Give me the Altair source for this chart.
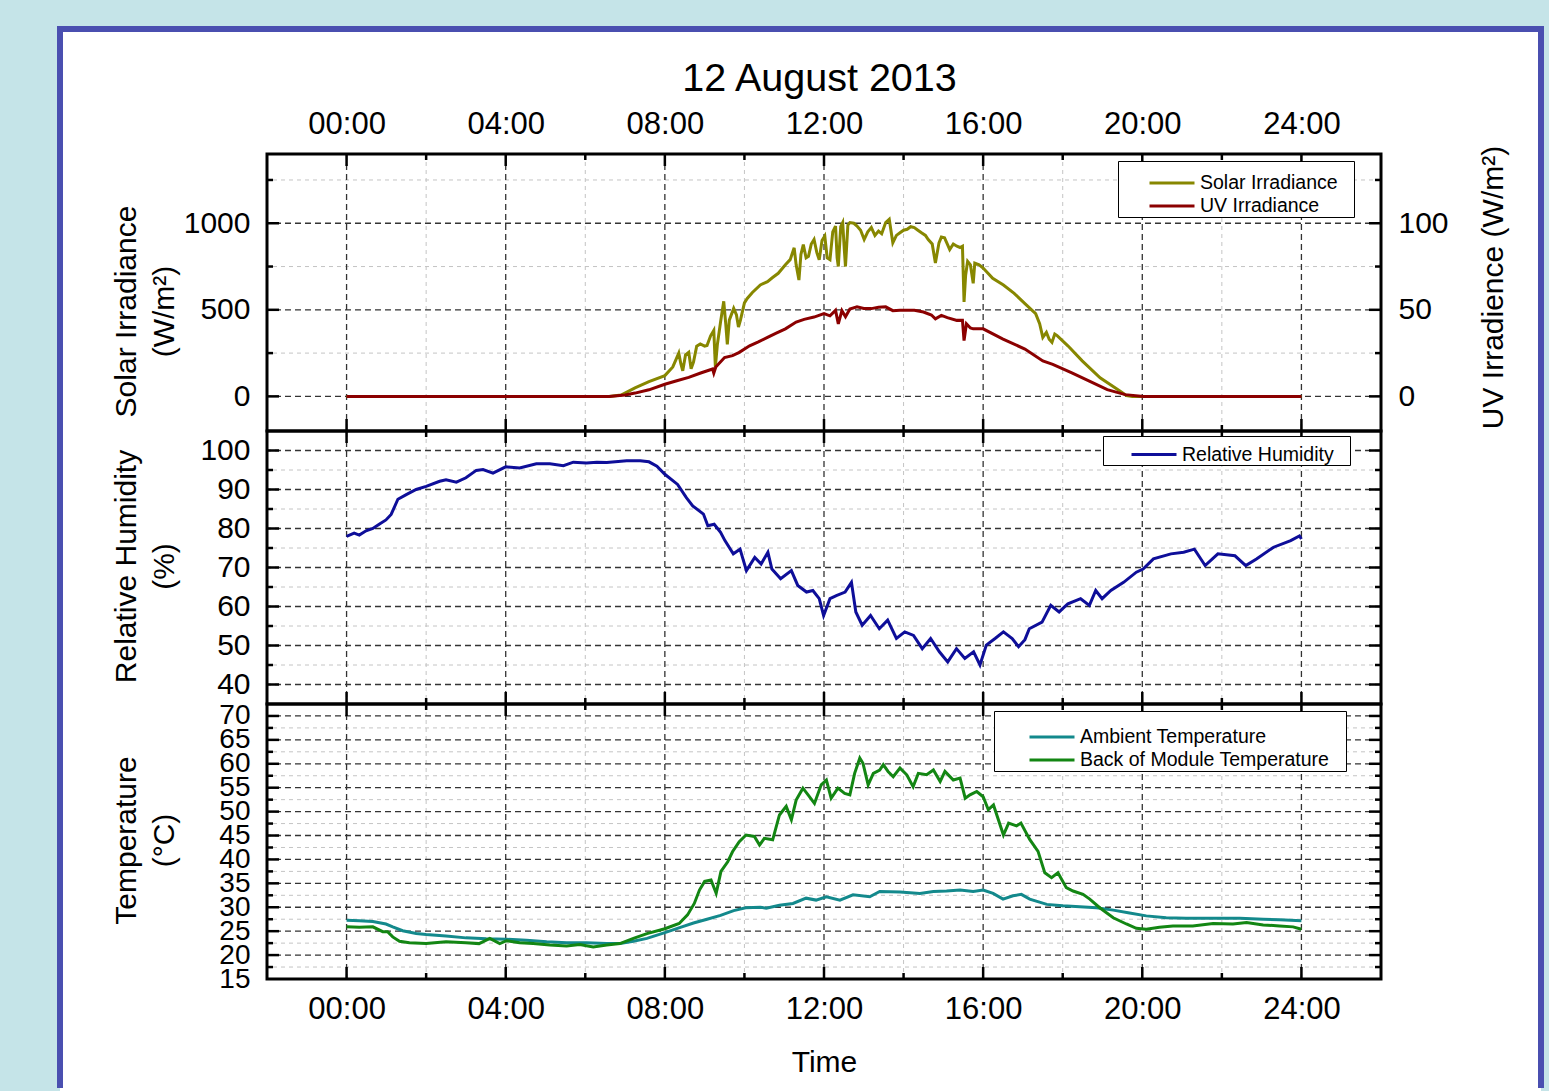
import altair as alt
import pandas as pd

FONT = "Liberation Sans, Arial, Helvetica, sans-serif"

# ---------------- data ----------------
hour_major = [0, 4, 8, 12, 16, 20, 24]
hour_minor = [2, 6, 10, 14, 18, 22]

solar_t = [0, 6.6, 6.9, 7.25, 7.6, 8.0, 8.2, 8.35, 8.4, 8.45, 8.52, 8.6, 8.66, 8.72, 8.8, 8.89, 9.0, 9.06, 9.15, 9.23,
           9.27, 9.32, 9.4, 9.48, 9.53, 9.57, 9.62, 9.73, 9.8, 9.85, 9.9, 10.0, 10.07, 10.2, 10.4, 10.58, 10.7, 10.85,
           11.03, 11.15, 11.25, 11.3, 11.37, 11.42, 11.48, 11.55, 11.61, 11.68, 11.75, 11.82, 11.88, 11.95, 12.02,
           12.08, 12.15, 12.22, 12.29, 12.33, 12.36, 12.42, 12.47, 12.51, 12.54, 12.6, 12.65, 12.75, 12.83, 12.92,
           13.01, 13.1, 13.19, 13.28, 13.37, 13.45, 13.55, 13.64, 13.73, 13.82, 13.91, 14.0, 14.09, 14.18, 14.27,
           14.36, 14.45, 14.55, 14.62, 14.72, 14.8, 14.89, 14.95, 15.03, 15.1, 15.16, 15.25, 15.34, 15.42, 15.48,
           15.52, 15.56, 15.61, 15.68, 15.75, 15.79, 15.9, 16.0, 16.24, 16.51, 16.78, 17.05, 17.32, 17.42, 17.5,
           17.59, 17.66, 17.73, 17.8, 17.86, 18.13, 18.49, 18.94, 19.39, 19.6, 19.75, 24]
solar_v = [0, 0, 8, 49, 85, 120, 170, 250, 190, 148, 240, 255, 160, 198, 290, 303, 290, 294, 350, 381,
           170, 300, 430, 549, 420, 300, 440, 508, 470, 400, 440, 540, 566, 600, 644, 663, 685, 711,
           760, 790, 858, 760, 672, 820, 877, 800, 809, 880, 906, 830, 789, 900, 926,
           800, 790, 950, 984, 800, 750, 980, 1004, 850, 750, 990, 1004, 1000, 984, 960,
           906, 950, 975, 930, 955, 940, 1004, 1023, 887, 930, 945, 960, 965, 980, 975,
           960, 945, 930, 906, 880, 770, 887, 920, 916, 880, 848, 880, 867, 860, 867,
           546, 700, 780, 760, 653, 770, 760, 741, 682, 643, 595, 536, 478, 420, 341,
           370, 330, 312, 360, 351, 292, 205, 107, 39, 5, 0, 0]

uv_t = [0, 6.6, 7.0, 7.25, 7.6, 8.0, 8.3, 8.6, 8.9, 9.2, 9.23, 9.28, 9.5, 9.7, 9.86, 10.13, 10.35, 10.58, 10.8,
        11.03, 11.3, 11.5, 11.75, 12.0, 12.15, 12.29, 12.36, 12.45, 12.54, 12.65, 12.83, 13.0, 13.19, 13.37,
        13.55, 13.73, 13.91, 14.27, 14.5, 14.7, 14.8, 14.95, 15.1, 15.34, 15.48, 15.52, 15.58, 15.68, 15.75,
        16.0, 16.5, 17.05, 17.5, 17.75, 18.23, 18.67, 19.12, 19.57, 20.03, 24]
uv_v = [0, 0, 0.8, 1.9, 3.8, 7.0, 9.0, 11.0, 13.5, 15.8, 13.4, 17.0, 22.4, 23.5, 25.3, 29.2, 31.5, 34.1, 36.5,
        39.0, 42.9, 44.5, 45.8, 47.8, 46.5, 49.7, 41.9, 49.5, 46.0, 50.5, 51.7, 50.8, 50.7, 51.5,
        51.7, 49.5, 49.7, 49.7, 48.7, 47.0, 44.8, 46.8, 45.5, 43.9, 44.0, 32.2, 41.9, 39.5, 39.0,
        39.0, 33.1, 27.3, 20.5, 18.5, 13.6, 8.8, 3.9, 1.0, 0, 0]

rh_t = [0, 0.19, 0.32, 0.49, 0.66, 0.82, 0.99, 1.12, 1.29, 1.5, 1.75, 2.0, 2.34, 2.5, 2.76, 3.0, 3.26, 3.43, 3.68,
        4.0, 4.35, 4.77, 5.11, 5.45, 5.7, 6.03, 6.29, 6.54, 7.04, 7.38, 7.6, 7.8, 8.0, 8.32, 8.54, 8.7, 8.97, 9.08,
        9.24, 9.4, 9.51, 9.72, 9.89, 10.05, 10.26, 10.42, 10.59, 10.69, 10.91, 11.18, 11.34, 11.56, 11.72, 11.88,
        11.99, 12.15, 12.31, 12.53, 12.69, 12.8, 12.96, 13.17, 13.39, 13.6, 13.82, 14.03, 14.25, 14.47, 14.68,
        14.9, 15.11, 15.33, 15.54, 15.76, 15.92, 16.08, 16.3, 16.51, 16.73, 16.89, 17.05, 17.16, 17.48, 17.7,
        17.91, 18.13, 18.45, 18.67, 18.83, 18.99, 19.21, 19.53, 19.85, 20.02, 20.28, 20.72, 21.04, 21.31, 21.58,
        21.9, 22.33, 22.6, 22.87, 23.3, 23.73, 23.95, 24.0]
rh_v = [78.0, 78.8, 78.3, 79.4, 80.0, 81.1, 82.2, 83.6, 87.5, 88.7, 90.0, 90.8, 92.1, 92.5, 91.9, 93.0, 94.9, 95.1,
        94.2, 95.8, 95.5, 96.6, 96.6, 96.1, 97.0, 96.8, 97.0, 96.9, 97.4, 97.4, 97.1, 96.0, 93.9, 91.3, 87.9, 85.8,
        83.7, 80.7, 81.1, 79.0, 76.9, 73.5, 74.7, 69.2, 72.6, 70.9, 73.9, 69.6, 67.1, 69.2, 65.4, 63.7, 64.1, 62.0,
        57.7, 62.0, 62.8, 63.7, 66.2, 58.6, 55.2, 57.7, 54.3, 56.5, 51.8, 53.5, 52.6, 49.2, 51.8, 48.4, 45.8, 49.2,
        46.7, 48.4, 45.0, 50.1, 51.8, 53.5, 51.8, 49.7, 51.5, 54.3, 56.0, 60.3, 58.6, 60.7, 62.0, 60.3, 64.1, 62.0,
        64.1, 66.2, 68.8, 69.6, 72.2, 73.5, 73.9, 74.7, 70.5, 73.5, 73.0, 70.5, 72.2, 75.2, 76.9, 78.1, 77.3]

amb_t = [0, 0.32, 0.66, 0.99, 1.16, 1.41, 1.75, 2.0, 2.5, 3.0, 3.51, 4.02, 4.52, 5.03, 5.53, 6.03, 6.54, 6.87,
         7.21, 7.55, 8.0, 8.39, 8.72, 9.06, 9.4, 9.73, 10.03, 10.4, 10.55, 10.88, 11.22, 11.55, 11.8, 12.06, 12.4,
         12.73, 13.15, 13.4, 13.91, 14.41, 14.75, 15.08, 15.42, 15.75, 16.0, 16.25, 16.5, 16.75, 16.96, 17.17,
         17.6, 18.0, 18.43, 18.85, 19.27, 19.68, 20.1, 20.6, 21.1, 21.78, 22.45, 23.04, 23.45, 24.0]
amb_v = [27.3, 27.2, 27.0, 26.5, 25.9, 25.1, 24.5, 24.3, 24.0, 23.6, 23.4, 23.3, 23.1, 22.8, 22.6, 22.6, 22.4, 22.4,
         22.9, 23.5, 24.7, 25.8, 26.7, 27.5, 28.3, 29.3, 29.9, 30.0, 29.8, 30.4, 30.8, 31.9, 31.5, 32.2, 31.5,
         32.6, 32.2, 33.3, 33.2, 32.9, 33.3, 33.4, 33.6, 33.3, 33.6, 32.9, 31.7, 32.4, 32.7, 31.7,
         30.6, 30.3, 30.1, 29.9, 29.4, 28.8, 28.2, 27.8, 27.7, 27.7, 27.7, 27.5, 27.4, 27.2]

bom_t = [0, 0.32, 0.66, 0.91, 1.03, 1.16, 1.33, 1.58, 2.0, 2.5, 3.0, 3.33, 3.6, 3.85, 4.02, 4.35, 4.69, 5.11, 5.53,
         5.86, 6.2, 6.54, 6.87, 7.21, 7.55, 8.0, 8.36, 8.57, 8.74, 8.87, 9.0, 9.16, 9.29, 9.41, 9.58, 9.7, 9.87,
         10.04, 10.25, 10.38, 10.5, 10.71, 10.88, 11.05, 11.18, 11.3, 11.47, 11.6, 11.76, 11.93, 12.06, 12.18,
         12.35, 12.52, 12.65, 12.77, 12.9, 12.98, 13.11, 13.24, 13.4, 13.49, 13.61, 13.74, 13.91, 14.08, 14.24,
         14.37, 14.58, 14.75, 14.92, 15.04, 15.25, 15.42, 15.55, 15.67, 15.84, 16.0, 16.13, 16.26, 16.51, 16.64,
         16.84, 16.95, 17.17, 17.38, 17.55, 17.72, 17.88, 18.09, 18.26, 18.51, 18.68, 18.93, 19.27, 19.6, 19.85,
         20.1, 20.43, 20.77, 21.27, 21.78, 22.28, 22.62, 23.04, 23.45, 23.79, 24.0]
bom_v = [25.9, 25.8, 25.9, 24.9, 24.9, 23.8, 22.9, 22.6, 22.4, 22.8, 22.6, 22.4, 23.5, 22.4, 23.0, 22.6, 22.4, 22.1,
         21.9, 22.2, 21.7, 22.1, 22.4, 23.5, 24.5, 25.5, 26.6, 28.4, 30.8, 33.6, 35.4, 35.7, 32.9, 37.5, 39.5, 41.6,
         43.7, 45.1, 44.8, 43.0, 44.4, 44.1, 49.3, 51.1, 48.3, 52.4, 54.9, 53.5, 51.7, 55.6, 56.6, 52.8,
         54.9, 53.8, 53.5, 58.0, 61.2, 60.1, 55.6, 58.0, 58.7, 59.8, 58.4, 57.3, 59.1, 57.7, 55.2,
         58.0, 57.7, 58.7, 56.3, 58.4, 56.6, 57.0, 52.8, 53.5, 54.2, 53.1, 50.4, 51.4, 45.1, 47.6,
         47.0, 47.6, 44.2, 41.7, 37.2, 36.2, 37.2, 34.1, 33.4, 32.7, 31.7, 29.9, 27.8, 26.5, 25.6,
         25.4, 25.8, 26.1, 26.1, 26.6, 26.5, 26.8, 26.3, 26.1, 25.9, 25.4]

solar_major = [0, 500, 1000]
solar_minor = [250, 750, 1250]
uv_labels = [0, 50, 100]
rh_major = [40, 50, 60, 70, 80, 90, 100]
rh_minor = [45, 55, 65, 75, 85, 95]
temp_labels = [15, 20, 25, 30, 35, 40, 45, 50, 55, 60, 65, 70]
temp_major = [20, 25, 30, 35, 40, 45, 50, 55, 60, 65, 70]
temp_minor = [17.5, 22.5, 27.5, 32.5, 37.5, 42.5, 47.5, 52.5, 57.5, 62.5, 67.5]

# ---------------- styling ----------------
W = 1114
H_TOP, H_MID, H_BOT = 277, 273, 275
XS = alt.Scale(domain=[-2, 26], nice=False, zero=False)
YS_SOLAR = alt.Scale(domain=[-200, 1400], nice=False, zero=False)
YS_UV = alt.Scale(domain=[-20, 140], nice=False, zero=False)
YS_RH = alt.Scale(domain=[35, 105], nice=False, zero=False)
YS_T = alt.Scale(domain=[15, 72.5], nice=False, zero=False)
HOUR_EXPR = "(datum.value < 10 ? '0' : '') + datum.value + ':00'"
BORDER = "#4a4fb0"
MAJ_C, MIN_C = "#333333", "#c4c4c4"
TICK_MAJ, TICK_MIN = 12, 6
PADCH = "\u2800"


def ax(**kw):
    base = dict(ticks=False, tickSize=0, domain=False, grid=False, labelFont=FONT, labelFontSize=30,
                labelColor="black", titleFont=FONT, titleFontSize=30, titleColor="black",
                titleFontWeight="normal", labelOverlap=False, labelFlush=False, zindex=1, format="d")
    base.update(kw)
    return alt.Axis(**base)


def leg(x, y, so, spacer):
    # a blank, white title is used only as a top spacer inside the legend box
    return alt.Legend(title=PADCH, titleColor="white", titleFontSize=6, titlePadding=spacer - 6,
                      orient="none", legendX=x, legendY=y, direction="vertical",
                      fillColor="white", strokeColor="black", padding=1, rowPadding=3,
                      symbolType="M-2.5,0H2.5", symbolSize=324, symbolStrokeWidth=3, symbolOffset=so,
                      labelFont=FONT, labelFontSize=19.5, labelColor="black", labelOffset=17.5,
                      labelLimit=500, labelExpr="datum.label + '" + PADCH + "'", cornerRadius=0, zindex=1)


def vrules(vals, color, dash, width, xa):
    return alt.Chart(pd.DataFrame({"h": vals})).mark_rule(
        color=color, strokeDash=dash, strokeWidth=width).encode(x=alt.X("h:Q", scale=XS, axis=xa))


def hrules(vals, ys, color, dash, width, ya):
    return alt.Chart(pd.DataFrame({"v": vals})).mark_rule(
        color=color, strokeDash=dash, strokeWidth=width).encode(y=alt.Y("v:Q", scale=ys, axis=ya))


def xticks(vals, length, H, xa):
    d = pd.DataFrame({"h": vals})
    top = alt.Chart(d).mark_rule(color="black", strokeWidth=2.5).encode(
        x=alt.X("h:Q", scale=XS, axis=xa), y=alt.value(0), y2=alt.value(length))
    bot = alt.Chart(d).mark_rule(color="black", strokeWidth=2.5).encode(
        x=alt.X("h:Q", scale=XS, axis=xa), y=alt.value(H), y2=alt.value(H - length))
    return [top, bot]


def yticks(vals, ys, length, ya):
    d = pd.DataFrame({"v": vals})
    left = alt.Chart(d).mark_rule(color="black", strokeWidth=2.5).encode(
        y=alt.Y("v:Q", scale=ys, axis=ya), x=alt.value(0), x2=alt.value(length))
    right = alt.Chart(d).mark_rule(color="black", strokeWidth=2.5).encode(
        y=alt.Y("v:Q", scale=ys, axis=ya), x=alt.value(W), x2=alt.value(W - length))
    return [left, right]


def border(H):
    return alt.Chart(pd.DataFrame({"k": [0]})).mark_rect(
        fill=None, stroke="black", strokeWidth=3).encode(
        x=alt.value(0), x2=alt.value(W), y=alt.value(0), y2=alt.value(H))


def decorations(ys, ymaj, ymin, xa, ya):
    return [vrules(hour_minor, MIN_C, [4, 4], 1, xa), hrules(ymin, ys, MIN_C, [4, 4], 1, ya),
            vrules(hour_major, MAJ_C, [6, 4], 1.3, xa), hrules(ymaj, ys, MAJ_C, [6, 4], 1.3, ya)]


def ticks(H, ys, ymaj, ymin, xa, ya):
    return (xticks(hour_major, TICK_MAJ, H, xa) + xticks(hour_minor, TICK_MIN, H, xa)
            + yticks(ymaj, ys, TICK_MAJ, ya) + yticks(ymin, ys, TICK_MIN, ya))


# ---------------- frame of the slide (white sheet with blue border) ----------------
one = pd.DataFrame({"k": [0]})
sheet = alt.Chart(one).mark_rect(color="white").encode(
    x=alt.value(-207), x2=alt.value(1274), y=alt.value(-125), y2=alt.value(937))
edge_l = alt.Chart(one).mark_rule(color=BORDER, strokeWidth=6, strokeCap="square").encode(
    x=alt.value(-207), y=alt.value(-125), y2=alt.value(931))
edge_r = alt.Chart(one).mark_rule(color=BORDER, strokeWidth=6, strokeCap="square").encode(
    x=alt.value(1274), y=alt.value(-125), y2=alt.value(931))
edge_t = alt.Chart(one).mark_rule(color=BORDER, strokeWidth=6).encode(
    x=alt.value(-210), x2=alt.value(1277), y=alt.value(-125))

# ---------------- top panel: irradiance ----------------
X_TOP = ax(orient="top", values=hour_major, labelExpr=HOUR_EXPR, labelPadding=14, labelFontSize=31,
           title="12 August 2013", titleFontSize=39.5, titleX=552, titleY=-64,
           titleBaseline="alphabetic", titleAlign="center", titleAngle=0)
Y_SOLAR = ax(orient="left", values=solar_major, labelPadding=17,
             title=["Solar Irradiance", "(W/m²)"], titleAngle=270, titleX=-156, titleY=157,
             titleAlign="center", titleBaseline="top", titleLineHeight=38)

solar_df = pd.DataFrame({"t": solar_t, "v": solar_v, "s": "Solar Irradiance"})
uv_df = pd.DataFrame({"t": uv_t, "v": uv_v, "s": "UV Irradiance"})
irr_color = alt.Scale(domain=["Solar Irradiance", "UV Irradiance"], range=["#878700", "#8b0000"])
LEG_TOP = leg(851, 7, 42.5, 10.5)

solar_line = alt.Chart(solar_df).mark_line(strokeWidth=3).encode(
    x=alt.X("t:Q", scale=XS, axis=X_TOP),
    y=alt.Y("v:Q", scale=YS_SOLAR, axis=Y_SOLAR),
    color=alt.Color("s:N", scale=irr_color, legend=LEG_TOP))

uv_line = alt.Chart(uv_df).mark_line(strokeWidth=3).encode(
    x=alt.X("t:Q", scale=XS, axis=X_TOP),
    y=alt.Y("v:Q", scale=YS_UV, axis=ax(orient="right", values=uv_labels, labelPadding=17,
                                         title="UV Irradience (W/m²)", titleAngle=270, titleX=97,
                                         titleY=133, titleAlign="center", titleBaseline="top")),
    color=alt.Color("s:N", scale=irr_color, legend=LEG_TOP))

top_base = alt.layer(sheet, edge_l, edge_r, edge_t,
                     *decorations(YS_SOLAR, solar_major, solar_minor, X_TOP, Y_SOLAR),
                     solar_line,
                     *ticks(H_TOP, YS_SOLAR, solar_major, solar_minor, X_TOP, Y_SOLAR),
                     border(H_TOP))
top = alt.layer(top_base, uv_line).resolve_scale(y="independent").properties(width=W, height=H_TOP)

# ---------------- middle panel: relative humidity ----------------
Y_RH = ax(orient="left", values=rh_major, labelPadding=17,
          title=["Relative Humidity", "(%)"], titleAngle=270, titleX=-156, titleY=135,
          titleAlign="center", titleBaseline="top", titleLineHeight=38)
rh_df = pd.DataFrame({"t": rh_t, "v": rh_v, "s": "Relative Humidity"})
rh_line = alt.Chart(rh_df).mark_line(strokeWidth=3).encode(
    x=alt.X("t:Q", scale=XS, axis=None),
    y=alt.Y("v:Q", scale=YS_RH, axis=Y_RH),
    color=alt.Color("s:N", scale=alt.Scale(domain=["Relative Humidity"], range=["#0e0e99"]),
                    legend=leg(836, 5, 39.5, 7)))
mid = alt.layer(*decorations(YS_RH, rh_major, rh_minor, None, Y_RH), rh_line,
                *ticks(H_MID, YS_RH, rh_major, rh_minor, None, Y_RH),
                border(H_MID)).properties(width=W, height=H_MID)

# ---------------- bottom panel: temperatures ----------------
X_BOT = ax(orient="bottom", values=hour_major, labelExpr=HOUR_EXPR, labelPadding=15, labelFontSize=31,
           title="Time", titleX=557, titleY=92, titleBaseline="alphabetic", titleAlign="center", titleAngle=0)
Y_T = ax(orient="left", values=temp_labels, labelPadding=17, labelFontSize=28,
         title=["Temperature", "(°C)"], titleAngle=270, titleX=-156, titleY=136,
         titleAlign="center", titleBaseline="top", titleLineHeight=38)
temp_df = pd.concat([
    pd.DataFrame({"t": amb_t, "v": amb_v, "s": "Ambient Temperature"}),
    pd.DataFrame({"t": bom_t, "v": bom_v, "s": "Back of Module Temperature"}),
])
temp_line = alt.Chart(temp_df).mark_line(strokeWidth=3).encode(
    x=alt.X("t:Q", scale=XS, axis=X_BOT),
    y=alt.Y("v:Q", scale=YS_T, axis=Y_T),
    color=alt.Color("s:N", scale=alt.Scale(domain=["Ambient Temperature", "Back of Module Temperature"],
                                           range=["#13898c", "#138613"]),
                    legend=leg(727, 7, 46.5, 14.5)),
    detail="s:N")
bot = alt.layer(*decorations(YS_T, temp_major, temp_minor, X_BOT, Y_T), temp_line,
                *ticks(H_BOT, YS_T, temp_major, temp_minor, X_BOT, Y_T),
                border(H_BOT)).properties(width=W, height=H_BOT)

chart = alt.vconcat(top, mid, bot, spacing=0, bounds="flush").resolve_scale(
    color="independent").resolve_legend(color="independent").properties(
    background="#c5e4e8", padding={"left": 54, "top": 24, "right": 2, "bottom": 0}
).configure_view(stroke=None)

chart.save("out.html", embed_options={"renderer": "svg", "actions": False})
